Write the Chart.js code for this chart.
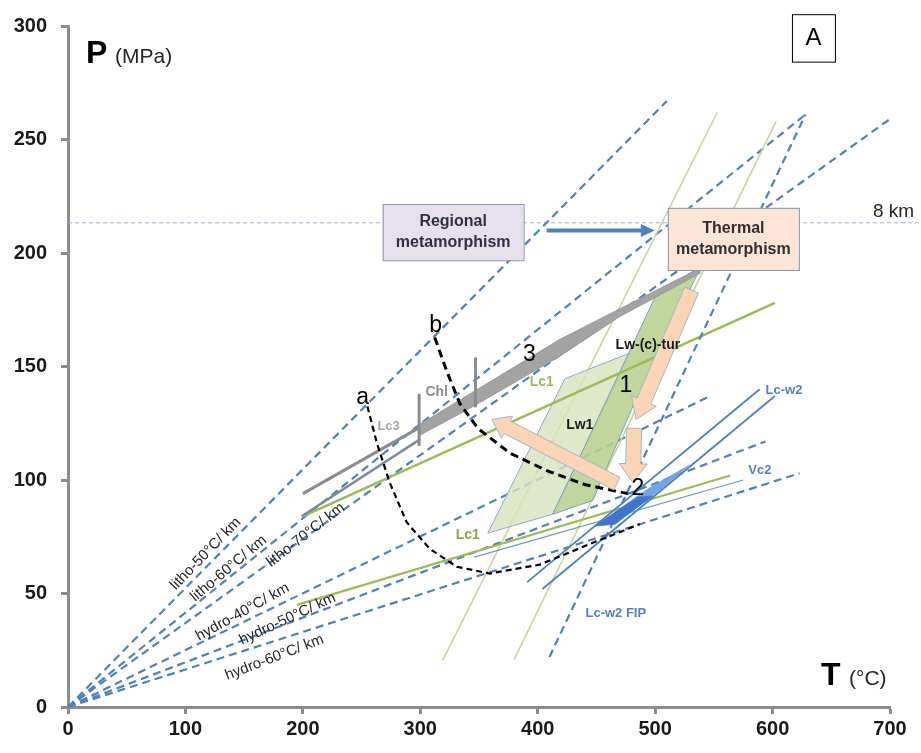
<!DOCTYPE html>
<html>
<head>
<meta charset="utf-8">
<script src="https://cdn.jsdelivr.net/npm/chart.js@4.4.1/dist/chart.umd.min.js"></script>
<style>
  html, body { margin: 0; padding: 0; background: #ffffff; }
  #wrap { width: 921px; height: 753px; position: relative; }
</style>
</head>
<body>
<div id="wrap"><canvas id="c" width="921" height="753"></canvas></div>
<script>
// ---- axis ticks ----
const tempTicks = [0, 100, 200, 300, 400, 500, 600, 700];
const pressTicks = [0, 50, 100, 150, 200, 250, 300];

// ---- geotherms from the origin (end point T, P) ----
const geothermLabels = ['litho-50°C/ km', 'litho-60°C/ km', 'litho-70°C/ km',
                        'hydro-40°C/ km', 'hydro-50°C/ km', 'hydro-60°C/ km'];
const geothermEndT = [510, 628, 700, 547, 594, 623];
const geothermEndP = [267, 261, 259, 137, 117, 103];

// depth of 8 km (MPa, lithostatic)
const depth8km = 213.3;

// ---- isochores [T, P] ----
const fipIsochore    = [[410, 22], [628, 261]];   // Lc-w2 FIP (dashed)
const oliveIsoA      = [[319, 20.5], [553, 262]];
const oliveIsoB      = [[380, 21], [603, 258]];
const lc1Upper       = [[200, 84], [602, 178]];
const lc1Lower       = [[195, 45], [564, 102]];
const lcw2IsoA       = [[391, 55], [589, 140]];
const lcw2IsoB       = [[404, 52], [602, 137]];
const vc2Iso         = [[346, 66], [575, 100]];
const lc3Upper       = [[200, 94], [538, 193]];
const lc3Lower       = [[199, 84], [300, 118]];
const lc3Band        = [[299.5, 124.5], [419, 162], [538, 193.3], [538, 191], [470, 172],
                        [419, 154.6], [342, 131.5], [299.5, 119.7], [299.5, 124.5]];
const chlLow         = [[299, 115], [299, 138]];
const chlHigh        = [[347, 132], [347, 154]];

// ---- P-T paths a and b ----
const pathA = [[255, 132.4], [263, 116.3], [274, 98.8], [288.4, 81.4], [308, 69.7], [331, 61.8],
               [359, 58.8], [401.7, 62.7], [444.4, 71.8], [487, 80.6]];
const pathB = [[312.3, 162.8], [322.5, 148], [333.6, 133.7], [348.9, 122.8], [376.2, 111.9],
               [407.7, 104.1], [440.1, 98], [476.7, 94]];

// ---- fields ----
const lw1Field   = [[357.5, 76.6], [423.1, 144.6], [478.4, 155.9], [412.8, 84.9], [357.5, 76.6]];
const lwTurField = [[412.8, 84.9], [499.7, 180.3], [536.4, 191.2], [480.2, 131.5], [446.9, 91], [412.8, 84.9]];
const lcw2Field  = [[448.6, 79.7], [495.5, 96.7], [529.6, 106.7], [508.3, 97.1], [465.7, 80.5], [448.6, 79.7]];
const lcw2Core   = [[448.6, 79.7], [485, 92.5], [498, 93], [465.7, 80.5], [448.6, 79.7]];

// ---- evolution arrows [tail T, tail P, tip T, tip P] ----
const arrowStep1 = [531, 183.7, 483.7, 126.7];
const arrowStep2 = [482, 122.8, 481, 98.8];
const arrowStep3 = [467.4, 98.4, 361, 126.7];
const arrowShift = [407.7, 209.9, 499.7, 209.9];

const pts = arr => arr.map(([x, y]) => ({ x, y }));
const line = (data, color, width, extra) => Object.assign({
  data: pts(data), showLine: true, borderColor: color, borderWidth: width,
  pointRadius: 0, fill: false, tension: 0
}, extra || {});

const DASH_BLUE = '#4f81bd';
const datasets = [];

// geotherms
geothermEndT.forEach((t, i) => {
  datasets.push(line([[0, 0], [t, geothermEndP[i]]], DASH_BLUE, 2.2,
    { borderDash: [8, 5], order: 20, clip: false, label: geothermLabels[i] }));
});
datasets.push(line([[0, depth8km], [726, depth8km]], '#95b3d7', 1, { borderDash: [4, 3], order: 25, clip: false }));
datasets.push(line(fipIsochore, DASH_BLUE, 2.2, { borderDash: [8, 5], order: 12 }));
datasets.push(line(oliveIsoA, '#c4d79b', 1.6, { order: 18 }));
datasets.push(line(oliveIsoB, '#c4d79b', 1.6, { order: 18 }));
datasets.push(line(lw1Field, '#8ea9c8', 1, { fill: 'shape', backgroundColor: 'rgba(215,228,189,0.8)', order: 16 }));
datasets.push(line(lwTurField, '#7f9cc0', 1, { fill: 'shape', backgroundColor: 'rgba(184,208,142,0.88)', order: 15 }));
datasets.push(line(lc1Upper, '#9bbb59', 2.5, { order: 14 }));
datasets.push(line(lc1Lower, '#9bbb59', 2.2, { order: 14 }));
datasets.push(line(vc2Iso, '#6f95c9', 1.2, { order: 14 }));
datasets.push(line(lcw2IsoA, '#4f81bd', 1.8, { order: 13 }));
datasets.push(line(lcw2IsoB, '#4f81bd', 1.8, { order: 13 }));
datasets.push(line(lcw2Field, '#6f9fe0', 0.5, { fill: 'shape', backgroundColor: 'rgba(110,160,230,0.95)', order: 11 }));
datasets.push(line(lcw2Core, '#3f73c4', 0.5, { fill: 'shape', backgroundColor: 'rgba(60,112,200,0.9)', order: 10 }));
datasets.push(line(lc3Band, '#9a9a9a', 1, { fill: 'shape', backgroundColor: '#a3a3a3', order: 9 }));
datasets.push(line(lc3Upper, '#8c8c8c', 3, { order: 9 }));
datasets.push(line(lc3Lower, '#7d8ba0', 2.5, { order: 9 }));
datasets.push(line(chlLow, '#8c8c8c', 3, { order: 8 }));
datasets.push(line(chlHigh, '#8c8c8c', 3, { order: 8 }));
datasets.push(line(pathA, '#000000', 2.2, { borderDash: [6, 4], order: 5 }));
datasets.push(line(pathB, '#000000', 3, { borderDash: [8, 5], order: 5 }));

const SANS = '"Liberation Sans", Arial, sans-serif';

function arrowPoly(ctx, x1, y1, x2, y2, sw, hw, hl) {
  const dx = x2 - x1, dy = y2 - y1, L = Math.hypot(dx, dy);
  const ux = dx / L, uy = dy / L, nx = -uy, ny = ux;
  const bx = x2 - ux * hl, by = y2 - uy * hl;
  ctx.beginPath();
  ctx.moveTo(x1 + nx * sw / 2, y1 + ny * sw / 2);
  ctx.lineTo(bx + nx * sw / 2, by + ny * sw / 2);
  ctx.lineTo(bx + nx * hw / 2, by + ny * hw / 2);
  ctx.lineTo(x2, y2);
  ctx.lineTo(bx - nx * hw / 2, by - ny * hw / 2);
  ctx.lineTo(bx - nx * sw / 2, by - ny * sw / 2);
  ctx.lineTo(x1 - nx * sw / 2, y1 - ny * sw / 2);
  ctx.closePath();
}

const decorations = {
  id: 'decorations',
  afterDatasetsDraw(chart) {
    const ctx = chart.ctx, xs = chart.scales.x, ys = chart.scales.y, ca = chart.chartArea;
    const X = v => xs.getPixelForValue(v), Y = v => ys.getPixelForValue(v);
    ctx.save();

    // evolution arrows
    [[arrowStep1, 15, 27, 20], [arrowStep2, 15, 28, 19], [arrowStep3, 14, 25, 17]].forEach(([a, sw, hw, hl]) => {
      arrowPoly(ctx, X(a[0]), Y(a[1]), X(a[2]), Y(a[3]), sw, hw, hl);
      ctx.fillStyle = '#fbd5b5';
      ctx.fill();
      ctx.strokeStyle = '#a7b4c8';
      ctx.lineWidth = 1;
      ctx.stroke();
    });

    // boxes
    const box = (t0, p0, t1, p1, fill, stroke, lines, font, color) => {
      const x0 = X(t0), y0 = Y(p0), x1 = X(t1), y1 = Y(p1);
      ctx.fillStyle = fill;
      ctx.fillRect(x0, y0, x1 - x0, y1 - y0);
      ctx.strokeStyle = stroke;
      ctx.lineWidth = 1;
      ctx.strokeRect(x0 + 0.5, y0 + 0.5, x1 - x0, y1 - y0);
      ctx.fillStyle = color;
      ctx.font = font;
      ctx.textAlign = 'center';
      ctx.textBaseline = 'middle';
      const cx = (x0 + x1) / 2, cy = (y0 + y1) / 2, lh = 21;
      lines.forEach((s, i) => ctx.fillText(s, cx, cy + (i - (lines.length - 1) / 2) * lh));
    };
    box(268, 221.6, 388, 196.8, '#e5e0ec', '#8496b0', ['Regional', 'metamorphism'], 'bold 16px ' + SANS, '#2f2f45');
    box(510.8, 219.9, 622.4, 192.5, '#fce4d6', '#8496b0', ['Thermal', 'metamorphism'], 'bold 16px ' + SANS, '#2f2f2f');
    box(616.5, 305.2, 653.1, 284.3, '#ffffff', '#000000', ['A'], '24px ' + SANS, '#000000');

    // shift arrow between the two settings
    {
      const a = arrowShift, x1 = X(a[0]), y1 = Y(a[1]), x2 = X(a[2]), y2 = Y(a[3]);
      ctx.strokeStyle = '#4f81bd';
      ctx.lineWidth = 4;
      ctx.beginPath(); ctx.moveTo(x1, y1); ctx.lineTo(x2 - 12, y2); ctx.stroke();
      ctx.fillStyle = '#4f81bd';
      ctx.beginPath(); ctx.moveTo(x2, y2); ctx.lineTo(x2 - 14, y2 - 6.5); ctx.lineTo(x2 - 14, y2 + 6.5); ctx.closePath(); ctx.fill();
    }

    // labels
    const text = (s, t, p, font, color, rot, align) => {
      ctx.save();
      ctx.translate(X(t), Y(p));
      if (rot) ctx.rotate(rot * Math.PI / 180);
      ctx.font = font;
      ctx.fillStyle = color;
      ctx.textAlign = align || 'center';
      ctx.textBaseline = 'middle';
      ctx.fillText(s, 0, 0);
      ctx.restore();
    };
    text('a', 251, 136.3, '23px ' + SANS, '#000');
    text('b', 313, 168.1, '23px ' + SANS, '#000');
    text('3', 393, 155.4, '23px ' + SANS, '#000');
    text('1', 475, 141.5, '23px ' + SANS, '#000');
    text('2', 485.3, 96.2, '23px ' + SANS, '#000');
    text('Chl', 314, 138.5, 'bold 14px ' + SANS, '#8c8c8c');
    text('Lc3', 273, 123.7, 'bold 13px ' + SANS, '#a6a6a6');
    text('Lc1', 403.4, 143.2, 'bold 14px ' + SANS, '#9bbb59');
    text('Lc1', 340.4, 75.8, 'bold 14px ' + SANS, '#8aa84f');
    text('Lw1', 435.8, 124.1, 'bold 14px ' + SANS, '#1a1a1a');
    text('Lw-(c)-tur', 493.8, 159.4, 'bold 14px ' + SANS, '#1a1a1a');
    text('Lc-w2', 609.7, 139.3, 'bold 13px ' + SANS, '#4f81bd');
    text('Vc2', 589.2, 104.1, 'bold 13px ' + SANS, '#4f81bd');
    text('Lc-w2 FIP', 466.5, 41.4, 'bold 13px ' + SANS, '#4f81bd');
    text('8 km', 685.5, 218.1, '19px ' + SANS, '#262626', 0, 'left');

    const gFont = '15px ' + SANS, gCol = '#262626';
    text(geothermLabels[0], 117.2, 67.5, gFont, gCol, -46);
    text(geothermLabels[1], 136.8, 61.0, gFont, gCol, -40);
    text(geothermLabels[2], 202.4, 75.8, gFont, gCol, -38);
    text(geothermLabels[3], 148.7, 41.8, gFont, gCol, -29);
    text(geothermLabels[4], 187.0, 38.8, gFont, gCol, -25);
    text(geothermLabels[5], 175.9, 21.8, gFont, gCol, -21);

    // axis titles
    ctx.textAlign = 'left';
    ctx.textBaseline = 'alphabetic';
    ctx.fillStyle = '#000';
    ctx.font = 'bold 32px ' + SANS;
    ctx.fillText('P', ca.left + 18, ca.top + 37);
    ctx.font = '21px ' + SANS;
    ctx.fillStyle = '#262626';
    ctx.fillText('(MPa)', ca.left + 47, ca.top + 37);
    ctx.fillStyle = '#000';
    ctx.font = 'bold 32px ' + SANS;
    ctx.fillText('T', ca.right - 69, ca.bottom - 22);
    ctx.font = '21px ' + SANS;
    ctx.fillStyle = '#262626';
    ctx.fillText('(°C)', ca.right - 41, ca.bottom - 22);

    ctx.restore();
  }
};

const tickFont = { family: SANS, size: 20, weight: 'bold' };
const axisGray = '#8c8c8c';

new Chart(document.getElementById('c'), {
  type: 'scatter',
  data: { datasets },
  options: {
    responsive: false,
    animation: false,
    events: [],
    layout: { padding: { top: 18, right: 31, left: 0, bottom: 0 } },
    plugins: { legend: { display: false }, tooltip: { enabled: false } },
    scales: {
      x: {
        type: 'linear', min: 0, max: 700,
        afterBuildTicks: s => { s.ticks = tempTicks.map(v => ({ value: v })); },
        afterFit: s => { s.height = 46; },
        ticks: { font: tickFont, color: '#1a1a1a', padding: 3, maxRotation: 0 },
        grid: { display: true, drawOnChartArea: false, drawTicks: true, tickLength: 7, tickColor: axisGray, tickWidth: 3, color: axisGray },
        border: { display: true, color: axisGray, width: 3 }
      },
      y: {
        type: 'linear', min: 0, max: 300,
        afterBuildTicks: s => { s.ticks = pressTicks.map(v => ({ value: v })); },
        afterFit: s => { s.width = 68; },
        ticks: { font: tickFont, color: '#1a1a1a', padding: 14 },
        grid: { display: true, drawOnChartArea: false, drawTicks: true, tickLength: 7, tickColor: axisGray, tickWidth: 3, color: axisGray },
        border: { display: true, color: axisGray, width: 3 }
      }
    }
  },
  plugins: [decorations]
});
</script>
</body>
</html>
